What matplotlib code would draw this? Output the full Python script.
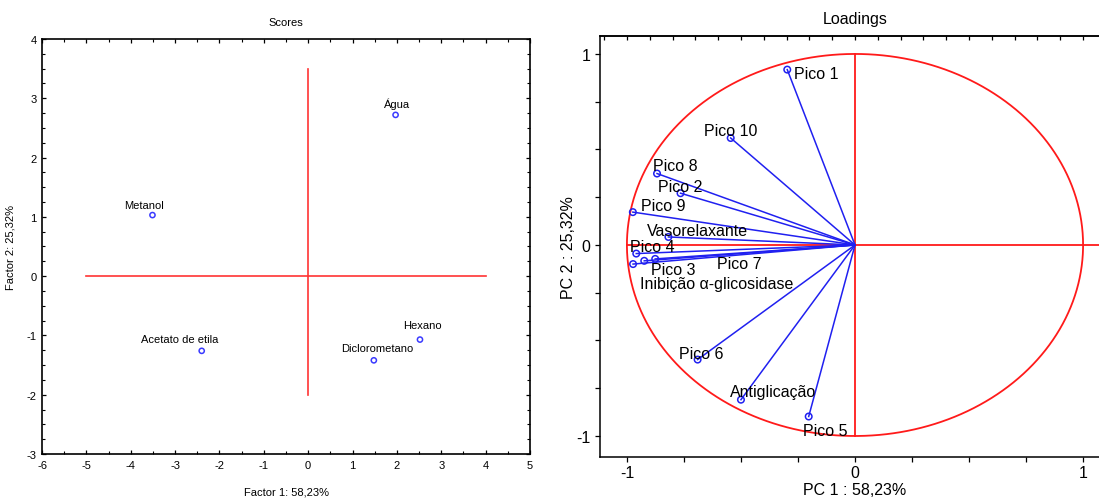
import numpy as np
import matplotlib
matplotlib.use("Agg")
import matplotlib.pyplot as plt
from matplotlib.ticker import MultipleLocator

plt.rcParams['font.family'] = ['Liberation Sans', 'DejaVu Sans']
plt.rcParams['axes.unicode_minus'] = False

# scores (left panel)
score_names = ['Metanol', 'Água', 'Acetato de etila', 'Diclorometano', 'Hexano']
score_x = [-3.51, 1.97, -2.40, 1.48, 2.52]
score_y = [1.03, 2.72, -1.26, -1.42, -1.07]

# loadings (right panel)
load_names = ['Pico 1', 'Pico 10', 'Pico 8', 'Pico 2', 'Pico 9', 'Vasorelaxante',
              'Pico 4', 'Inibição α-glicosidase', 'Pico 3', 'Pico 7',
              'Pico 6', 'Antiglicação', 'Pico 5']
load_x = [-0.297, -0.545, -0.868, -0.765, -0.974, -0.818,
          -0.959, -0.973, -0.924, -0.876,
          -0.690, -0.500, -0.203]
load_y = [0.918, 0.560, 0.374, 0.271, 0.172, 0.042,
          -0.045, -0.100, -0.083, -0.073,
          -0.600, -0.810, -0.898]

# label offsets in pixels (dx, dy), layout only
score_off = [(-8, 10), (1, 12), (-22, 12), (3, 12), (2, 15)]
load_off = [(7, -4), (-27, 8), (-4, 8), (-23, 7), (8, 7), (-22, 6),
            (-6, 7), (7, -19), (7, -9), (62, -5),
            (-19, 6), (-11, 8), (-6, -14)]

fig = plt.figure(figsize=(10.99, 5.02), dpi=100)

# ---------------- Scores ----------------
ax1 = fig.add_axes([42 / 1099, 1 - 455 / 502, (530 - 42) / 1099, (455 - 40) / 502])
ax1.plot([-5, 4], [0, 0], color='#ff3333', lw=1.2)
ax1.plot([0, 0], [-2, 3.5], color='#ff3333', lw=1.2)
ax1.scatter(score_x, score_y, s=14, facecolors='none', edgecolors='#3a3aff', linewidths=1.1, zorder=3)
for name, x, y, (dx, dy) in zip(score_names, score_x, score_y, score_off):
    ax1.annotate(name, (x, y), xytext=(dx, dy), textcoords='offset pixels',
                 ha='center', va='center', fontsize=8)
ax1.set_xlim(-6, 5)
ax1.set_ylim(-3, 4)
ax1.xaxis.set_major_locator(MultipleLocator(1))
ax1.yaxis.set_major_locator(MultipleLocator(1))
ax1.xaxis.set_minor_locator(MultipleLocator(0.5))
ax1.yaxis.set_minor_locator(MultipleLocator(0.25))
ax1.tick_params(which='both', direction='in', top=True, right=True, labelsize=8, pad=4)
ax1.tick_params(which='major', length=3, width=0.9)
ax1.tick_params(which='minor', length=2, width=0.8)
for sp in ax1.spines.values():
    sp.set_linewidth(1.2)
ax1.set_title('Scores', fontsize=8, pad=10)
ax1.set_xlabel('Factor 1: 58,23%', fontsize=8, labelpad=12)
ax1.set_ylabel('Factor 2: 25,32%', fontsize=8, labelpad=8)

# ---------------- Loadings ----------------
ax2 = fig.add_axes([600 / 1099, 1 - 458 / 502, (1110 - 600) / 1099, (458 - 37) / 502])
t = np.linspace(0, 2 * np.pi, 400)
ax2.plot(np.cos(t), np.sin(t), color='#ff1a1a', lw=1.3)
ax2.plot([-1, 1.2], [0, 0], color='#ff1a1a', lw=1.3)
ax2.plot([0, 0], [-1, 1], color='#ff1a1a', lw=1.3)
for x, y in zip(load_x, load_y):
    ax2.plot([0, x], [0, y], color='#2020f0', lw=1.1)
ax2.scatter(load_x, load_y, s=22, facecolors='none', edgecolors='#2020f0', linewidths=1.1, zorder=3)
for name, x, y, (dx, dy) in zip(load_names, load_x, load_y, load_off):
    ax2.annotate(name, (x, y), xytext=(dx, dy), textcoords='offset pixels',
                 ha='left', va='center', fontsize=11.5)
ax2.set_xlim(-1.118, 1.118)
ax2.set_ylim(-1.11, 1.094)
ax2.set_xticks([-1, 0, 1])
ax2.set_yticks([-1, 0, 1])
ax2.xaxis.set_minor_locator(MultipleLocator(0.25))
ax2.yaxis.set_minor_locator(MultipleLocator(0.25))
ax2.tick_params(which='both', direction='out', length=3.5, width=0.9, labelsize=11.5)
ax2.tick_params(axis='x', pad=2)
ax2.spines['right'].set_visible(False)
for sp in ax2.spines.values():
    sp.set_linewidth(1.1)
top = ax2.secondary_xaxis('top')
top.set_xticks(np.round(np.arange(-1.1, 1.11, 0.1), 2))
top.tick_params(direction='in', length=3, width=0.9, labeltop=False)
top.spines['top'].set_linewidth(1.1)
ax2.set_title('Loadings', fontsize=11.5, pad=9)
ax2.set_xlabel('PC 1 : 58,23%', fontsize=11.5, labelpad=2)
ax2.set_ylabel('PC 2 : 25,32%', fontsize=11.5, labelpad=0)

fig.savefig('out.png', dpi=100)
